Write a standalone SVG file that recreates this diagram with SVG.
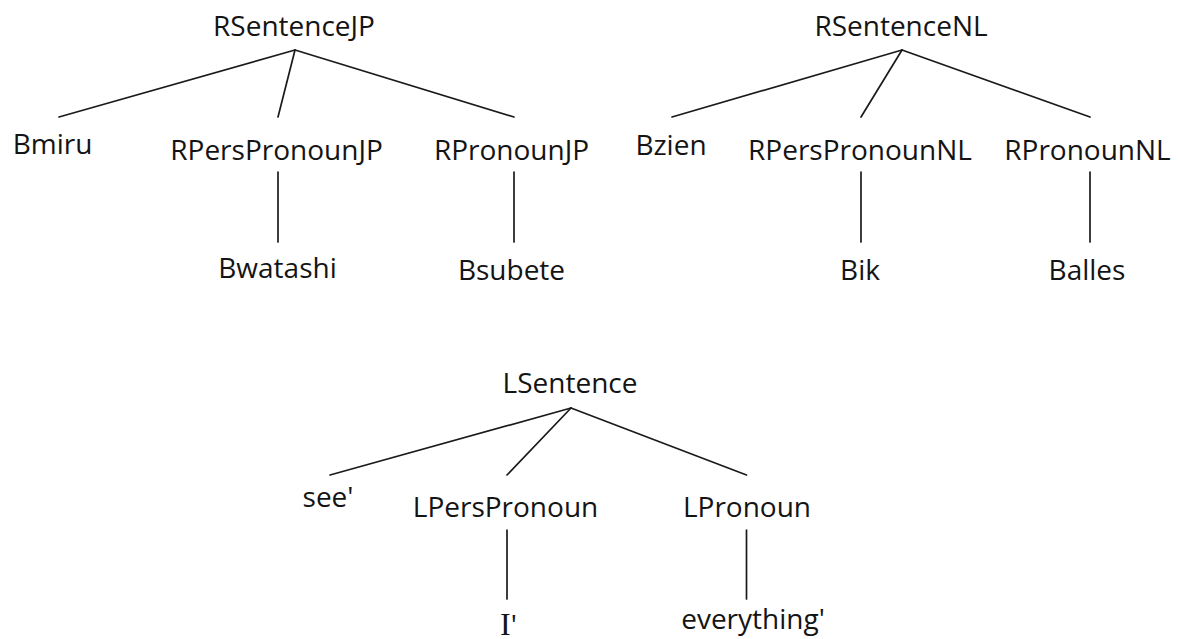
<svg xmlns="http://www.w3.org/2000/svg" width="1179" height="639" viewBox="0 0 1179 639">
  <style>
    .lbl { font-family: "Open Sans", "Noto Sans", "DejaVu Sans", sans-serif; font-size: 28px; fill: #141414; text-anchor: middle; }
    .serif { font-family: "Liberation Serif", "DejaVu Serif", serif; font-size: 32px; }
    .edge { stroke: #1a1a1a; stroke-width: 1.7; fill: none; stroke-linecap: round; }
  </style>
  <rect width="1179" height="639" fill="#ffffff"/>

  <!-- connectors -->
  <g id="connectors">
    <!-- RSentenceJP tree -->
    <line class="edge" x1="295" y1="50" x2="59" y2="117"/>
    <line class="edge" x1="295" y1="50" x2="278" y2="117"/>
    <line class="edge" x1="295" y1="50" x2="514" y2="117"/>
    <line class="edge" x1="278" y1="172" x2="278" y2="242"/>
    <line class="edge" x1="514" y1="172" x2="514" y2="242"/>
    <!-- RSentenceNL tree -->
    <line class="edge" x1="902" y1="50" x2="672" y2="117"/>
    <line class="edge" x1="902" y1="50" x2="861" y2="117"/>
    <line class="edge" x1="902" y1="50" x2="1090" y2="117"/>
    <line class="edge" x1="861" y1="172" x2="861" y2="242"/>
    <line class="edge" x1="1090" y1="172" x2="1090" y2="242"/>
    <!-- LSentence tree -->
    <line class="edge" x1="571" y1="408" x2="330" y2="475"/>
    <line class="edge" x1="571" y1="408" x2="507" y2="475"/>
    <line class="edge" x1="571" y1="408" x2="746.5" y2="475"/>
    <line class="edge" x1="507" y1="530" x2="507" y2="599"/>
    <line class="edge" x1="746.5" y1="530" x2="746.5" y2="599"/>
  </g>

  <!-- RSentenceJP tree -->
  <g id="RSentenceJP"><text class="lbl" x="294" y="36">RSentenceJP</text></g>
  <g id="Bmiru"><text class="lbl" x="52.5" y="154">Bmiru</text></g>
  <g id="RPersPronounJP"><text class="lbl" x="276.5" y="160">RPersPronounJP</text></g>
  <g id="RPronounJP"><text class="lbl" x="511.5" y="160">RPronounJP</text></g>
  <g id="Bwatashi"><text class="lbl" x="277.5" y="278">Bwatashi</text></g>
  <g id="Bsubete"><text class="lbl" x="511.5" y="280">Bsubete</text></g>

  <!-- RSentenceNL tree -->
  <g id="RSentenceNL"><text class="lbl" x="901" y="36">RSentenceNL</text></g>
  <g id="Bzien"><text class="lbl" x="671" y="155">Bzien</text></g>
  <g id="RPersPronounNL"><text class="lbl" x="860" y="160">RPersPronounNL</text></g>
  <g id="RPronounNL"><text class="lbl" x="1087.5" y="160">RPronounNL</text></g>
  <g id="Bik"><text class="lbl" x="860" y="280">Bik</text></g>
  <g id="Balles"><text class="lbl" x="1087" y="280">Balles</text></g>

  <!-- LSentence tree -->
  <g id="LSentence"><text class="lbl" x="570" y="393">LSentence</text></g>
  <g id="see"><text class="lbl" x="328" y="507">see'</text></g>
  <g id="LPersPronoun"><text class="lbl" x="505.5" y="517">LPersPronoun</text></g>
  <g id="LPronoun"><text class="lbl" x="747" y="517">LPronoun</text></g>
  <g id="I"><text class="lbl" x="508.5" y="635"><tspan class="serif">I</tspan>'</text></g>
  <g id="everything"><text class="lbl" x="753" y="629">everything'</text></g>
</svg>
